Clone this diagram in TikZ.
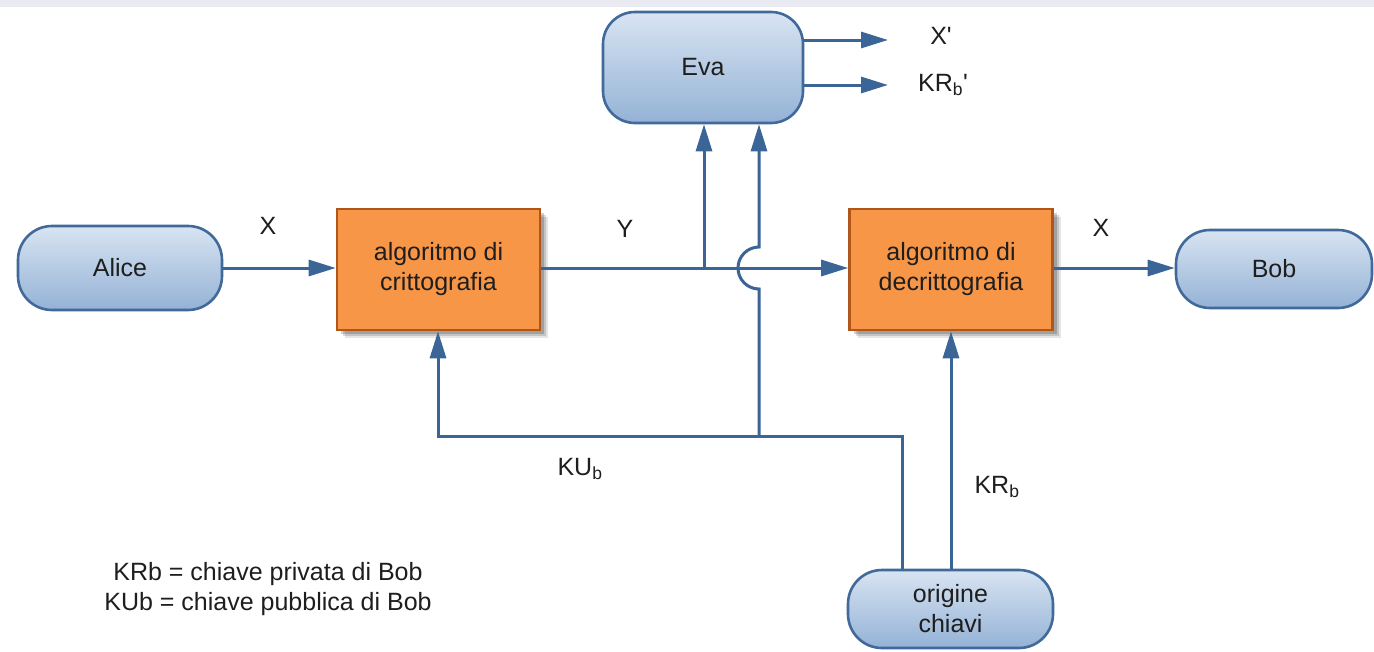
\documentclass[tikz,border=0pt]{standalone}
\usepackage{fontspec}
\setmainfont{Liberation Sans}
\usetikzlibrary{arrows.meta,shadows,calc}
\definecolor{linkblue}{HTML}{3B6597}
\definecolor{termedge}{HTML}{41699A}
\definecolor{termtop}{HTML}{D8E4F2}
\definecolor{termbot}{HTML}{94B2D6}
\definecolor{procfill}{HTML}{F79646}
\definecolor{procedge}{HTML}{B0561A}
\definecolor{ink}{HTML}{1E1E1E}
\definecolor{wmark}{HTML}{EAEAF2}
\tikzset{
  txt/.style={font=\fontsize{25}{30}\selectfont, text=ink, align=center, inner sep=0pt},
  term/.style={txt, draw=termedge, line width=2.6pt, rounded corners=34pt,
    top color=termtop, bottom color=termbot},
  softshadow/.style={
    drop shadow={shadow xshift=8pt, shadow yshift=-8pt, opacity=0.10, fill=black},
    drop shadow={shadow xshift=6pt, shadow yshift=-6pt, opacity=0.14, fill=black},
    drop shadow={shadow xshift=4pt, shadow yshift=-4pt, opacity=0.18, fill=black}},
  proc/.style={txt, draw=procedge, line width=2.6pt, fill=procfill,
    minimum width=203pt, minimum height=121pt, softshadow},
  link/.style={draw=linkblue, line width=3pt},
  arr/.style={link, -{Triangle[length=27pt,width=16pt]}},
  lbl/.style={txt}
}
\begin{document}
\begin{tikzpicture}[x=1pt,y=-1pt]
\useasboundingbox (0,0) rectangle (1374,651);
\fill[white] (0,0) rectangle (1374,651);
% faint band along the top edge
\fill[wmark] (0,0) rectangle (1374,7);

% parties and processing blocks
\node[term, minimum width=204pt, minimum height=84pt] (alice) at (120,268) {Alice};
\node[proc] (crypt) at (438.5,269.5) {algoritmo di\\crittografia};
\node[proc] (decrypt) at (951,269.5) {algoritmo di\\decrittografia};
\node[term, minimum width=196pt, minimum height=78pt] (bob) at (1274,269) {Bob};
\node[term, minimum width=200pt, minimum height=111pt, rounded corners=32pt] (eva) at (703,67.5) {Eva};
\node[term, minimum width=205pt, minimum height=78pt] (orig) at (950.5,609) {origine\\chiavi};

% junction points
\coordinate (yJ) at (704,268);
\coordinate (hopX) at (759,436);
\coordinate (kuR) at (902,436);
\coordinate (kuL) at (438,436);
\coordinate (xOut) at (888,40);
\coordinate (kOut) at (888,85);

% message path
\draw[arr] (alice.east |- 0,268) -- (crypt.west |- 0,268);
\draw[arr] (crypt.east |- 0,268) -- (decrypt.west |- 0,268);
\draw[arr] (decrypt.east |- 0,268) -- (bob.west |- 0,268);

% eavesdropper taps
\draw[arr] (yJ) -- (eva.south -| yJ);
\draw[arr] (hopX) -- (759,289) arc(-90:-270:21pt) -- (eva.south -| hopX);
\draw[arr] (eva.east |- xOut) -- (xOut);
\draw[arr] (eva.east |- kOut) -- (kOut);

% key distribution
\draw[arr] (orig.north -| kuR) -- (kuR) -- (kuL) -- (crypt.south -| kuL);
\draw[arr] (orig.north -| decrypt.south) -- (decrypt.south);

% labels
\node[lbl] (lx1) at (268,226) {X};
\node[lbl] (ly) at (625,229) {Y};
\node[lbl] (lx2) at (1101,228) {X};
\node[lbl] (lxp) at (941,36) {X\textquotesingle};
\node[lbl] (lkrp) at (943,85) {KR\textsubscript{b}\textquotesingle};
\node[lbl] (lku) at (580,469) {KU\textsubscript{b}};
\node[lbl] (lkr) at (997,487) {KR\textsubscript{b}};
\node[lbl] (legend) at (268,589) {KRb = chiave privata di Bob\\KUb = chiave pubblica di Bob};
\end{tikzpicture}
\end{document}
